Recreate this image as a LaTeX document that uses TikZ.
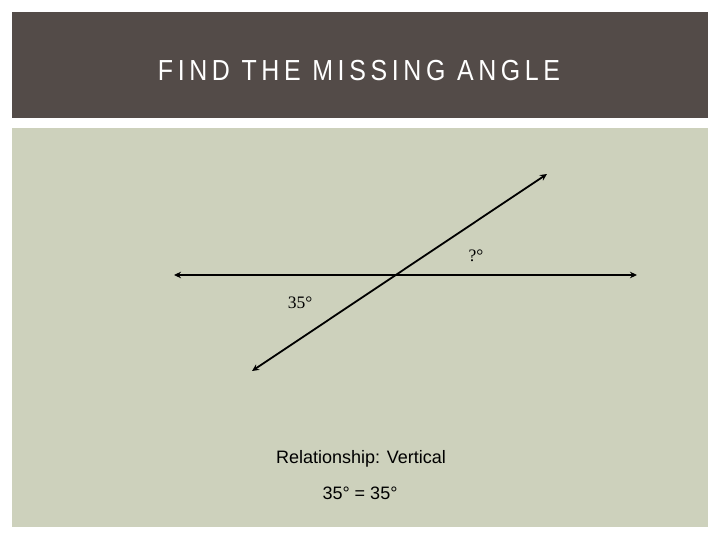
\documentclass[tikz,border=0pt]{standalone}
\usepackage{fontspec}
\setmainfont{Liberation Serif}
\setsansfont{Liberation Sans}
\newfontfamily\titlefont[LetterSpace=16,FakeStretch=0.86]{Liberation Sans}
\usetikzlibrary{arrows.meta}
\definecolor{band}{RGB}{83,75,72}
\definecolor{panel}{RGB}{205,209,188}
\tikzset{
  ray/.style={line width=1.8pt, {Stealth[length=7pt,width=6.5pt]}-{Stealth[length=7pt,width=6.5pt]}},
  anglelbl/.style={font=\rmfamily\fontsize{17.5}{19}\selectfont, inner sep=0pt},
  notelbl/.style={font=\sffamily\fontsize{18}{20}\selectfont, inner sep=0pt}
}
\begin{document}
\begin{tikzpicture}[x=1pt,y=-1pt]
\useasboundingbox (0,0) rectangle (720,540);
\fill[white] (0,0) rectangle (720,540);
\fill[band] (12,12) rectangle (708,118);
\fill[panel] (12,128) rectangle (708,527);
\node[text=white, font=\titlefont\fontsize{29}{31}\selectfont, inner sep=0pt] (title) at (359,71) {FIND THE MISSING ANGLE};
\coordinate (hl) at (174,275);
\coordinate (hr) at (637,275);
\coordinate (dl) at (252,371);
\coordinate (dr) at (547,174);
\draw[ray] (hl) -- (hr);
\draw[ray] (dl) -- (dr);
\node[anglelbl] (q) at (476,256) {?°};
\node[anglelbl] (a35) at (300,303) {35°};
\node[notelbl] (rel) at (361,459) {Relationship: Vertical};
\node[notelbl] (eq) at (360,493) {35° = 35°};
\end{tikzpicture}
\end{document}
